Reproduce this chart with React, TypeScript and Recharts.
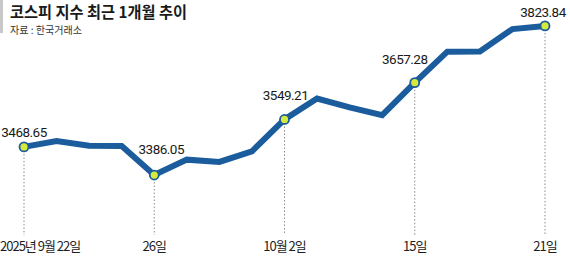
import { LineChart, Line, XAxis, YAxis, ReferenceLine, LabelList } from "recharts";

// KOSPI closing values, trading days 2025-09-22 .. 2025-10-21
const dates = [
  "9/22", "9/23", "9/24", "9/25", "9/26", "9/29", "9/30", "10/1", "10/2",
  "10/10", "10/13", "10/14", "10/15", "10/16", "10/17", "10/20", "10/21",
];
const kospi = [
  3468.65, 3486.19, 3472.14, 3471.11, 3386.05, 3431.21, 3424.6, 3455.83, 3549.21,
  3610.6, 3584.55, 3561.81, 3657.28, 3748.37, 3748.89, 3814.69, 3823.84,
];
const markedDates = ["9/22", "9/26", "10/2", "10/15", "10/21"];
const tickLabels = ["2025년 9월 22일", "26일", "10월 2일", "15일", "21일"];

const data = dates.map((d, i) => ({ date: d, value: kospi[i] }));

const BLUE = "#1b5c9c";
const DOT = "#d6ea3c";
const Y_MIN = 3210;

// label offsets relative to the dot (presentation only)
const labelOffset: Record<string, [number, number]> = {
  "9/22": [0, -10],
  "9/26": [7, -21],
  "10/2": [1, -19],
  "10/15": [-10, -19],
  "10/21": [-2, -9],
};

function ValueLabel(props: any) {
  const { x, y, value, index } = props;
  const d = dates[index];
  if (!markedDates.includes(d)) return null;
  const [dx, dy] = labelOffset[d];
  return (
    <text
      x={x + dx}
      y={y + dy}
      textAnchor="middle"
      fontFamily="Roboto, Arial, sans-serif"
      fontSize={13.5}
      fontWeight={400}
      letterSpacing={-0.5}
      fill="#1a1a1a"
    >
      {Number(value).toFixed(2)}
    </text>
  );
}

function Tick(props: any) {
  const { x, y, payload } = props;
  const i = markedDates.indexOf(payload.value);
  if (i < 0) return null;
  const first = i === 0;
  return (
    <text
      x={first ? x - 24 : x}
      y={y + 8}
      textAnchor={first ? "start" : "middle"}
      fontFamily="'Noto Sans CJK KR', sans-serif"
      fontSize={13}
      letterSpacing={-1}
      fill="#1e1e1e"
    >
      {tickLabels[i]}
    </text>
  );
}

function MarkDot(props: any) {
  const { cx, cy, payload } = props;
  if (!markedDates.includes(payload.date)) return <g key={payload.date} />;
  return (
    <circle
      key={payload.date}
      cx={cx}
      cy={cy}
      r={4.5}
      fill={DOT}
      stroke={BLUE}
      strokeWidth={1.8}
    />
  );
}

export default function App() {
  return (
    <div style={{ position: "relative", width: 570, height: 258, background: "#fff" }}>
      <style>{`body{margin:0}`}</style>
      <svg
        width={300}
        height={37}
        style={{ position: "absolute", left: 0, top: 0, zIndex: 1 }}
      >
        <rect x={0} y={0} width={3} height={33} fill="#c8c8c8" />
        <text
          x={10}
          y={18}
          fontFamily="'Noto Sans CJK KR', sans-serif"
          fontSize={15.5}
          fontWeight={700}
          fill="#1a1a1a"
          textLength={177}
          lengthAdjust="spacingAndGlyphs"
        >
          코스피 지수 최근 1개월 추이
        </text>
        <text
          x={10}
          y={34.2}
          fontFamily="'Noto Sans CJK KR', sans-serif"
          fontSize={10}
          fill="#333"
          textLength={72}
          lengthAdjust="spacingAndGlyphs"
        >
          자료 : 한국거래소
        </text>
      </svg>
      <LineChart
        width={570}
        height={258}
        data={data}
        margin={{ top: 0, right: 25, bottom: 0, left: 24 }}
      >
        <XAxis
          dataKey="date"
          height={23}
          axisLine={false}
          tickLine={false}
          interval={0}
          tick={<Tick />}
        />
        <YAxis hide domain={[Y_MIN, 3900]} />
        {markedDates.map((d) => (
          <ReferenceLine
            key={d}
            segment={[
              { x: d, y: kospi[dates.indexOf(d)] },
              { x: d, y: Y_MIN },
            ]}
            stroke="#8a8a8a"
            strokeWidth={1}
            strokeDasharray="1.5 2"
          />
        ))}
        <Line
          type="linear"
          dataKey="value"
          stroke={BLUE}
          strokeWidth={6}
          dot={<MarkDot />}
          activeDot={false}
          isAnimationActive={false}
        >
          <LabelList dataKey="value" content={<ValueLabel />} />
        </Line>
      </LineChart>
    </div>
  );
}
